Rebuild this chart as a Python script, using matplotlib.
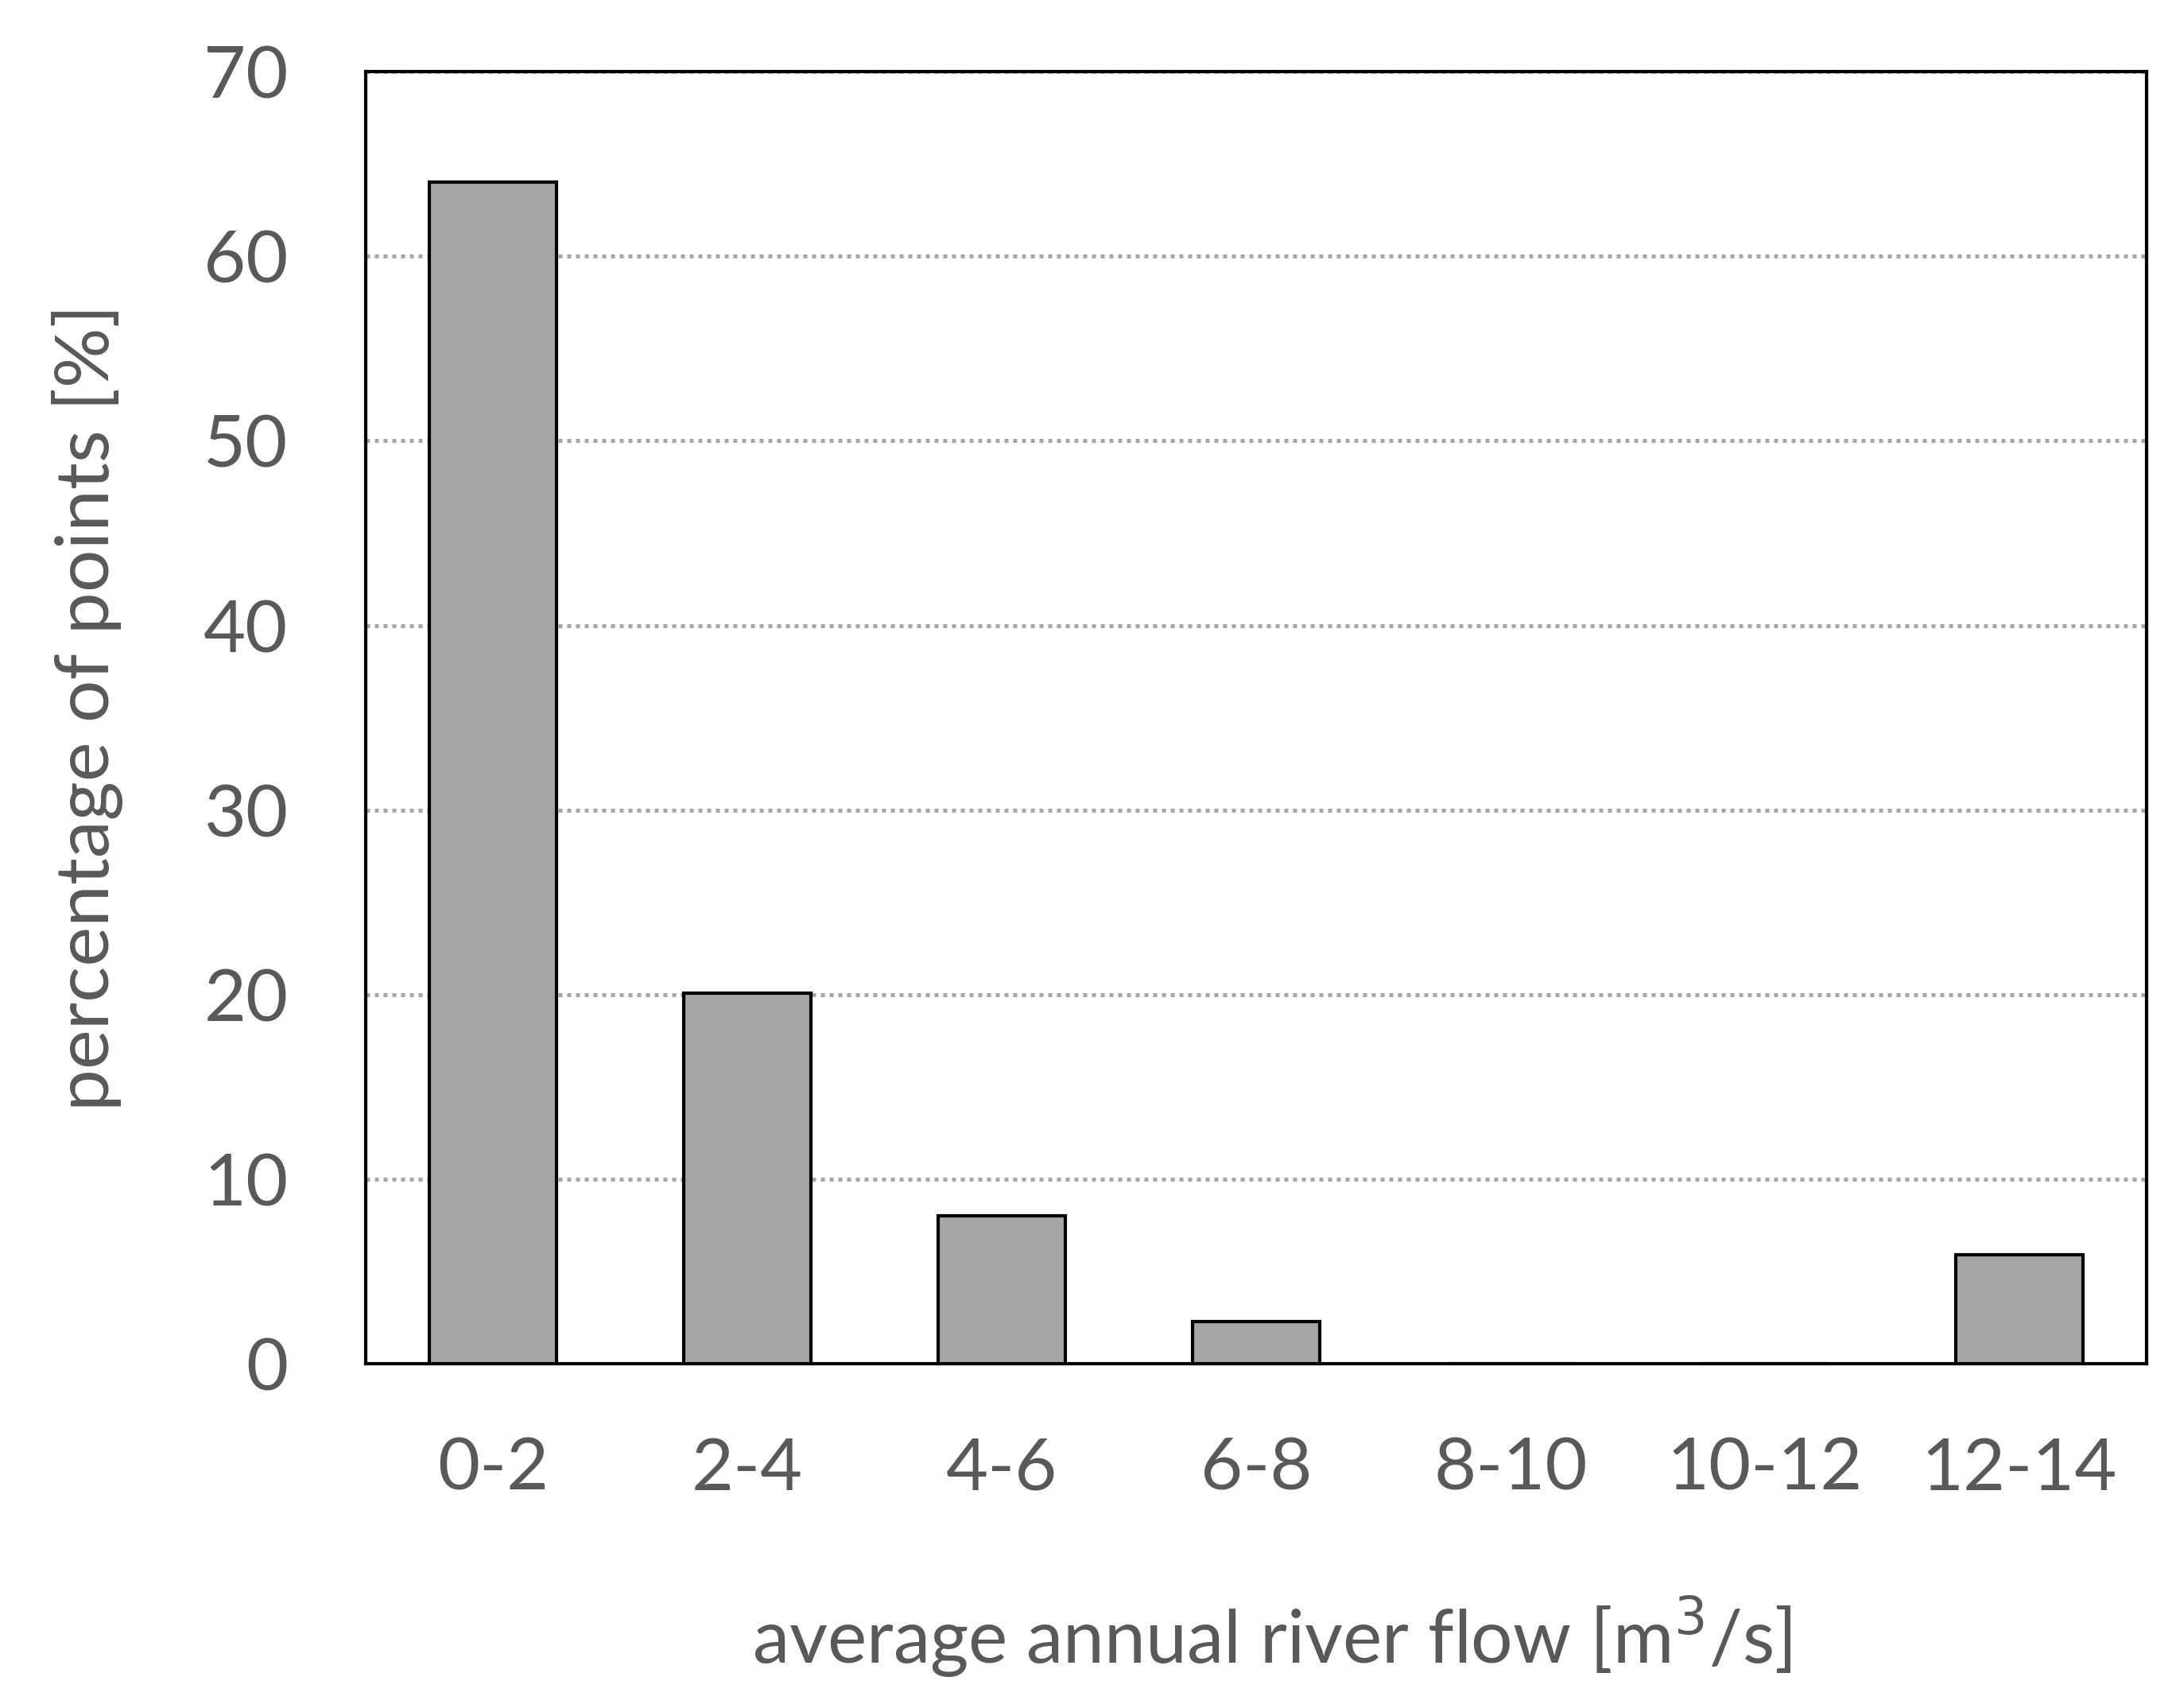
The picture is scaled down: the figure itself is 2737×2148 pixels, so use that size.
import matplotlib
matplotlib.use("Agg")
import matplotlib.pyplot as plt
import numpy as np

categories = ["0-2", "2-4", "4-6", "6-8", "8-10", "10-12", "12-14"]
percentages = [64.0, 20.1, 8.0, 2.3, 0.0, 0.0, 5.9]
yticks = [0, 10, 20, 30, 40, 50, 60, 70]

plt.rcParams['font.family'] = ['Lato', 'DejaVu Sans']
text_color = '#595959'

fig = plt.figure(figsize=(27.37, 21.48), dpi=100)
ax = fig.add_axes([0.168, 0.2015, 0.8185, 0.7565])

x = np.arange(len(categories))
ax.bar(x, percentages, width=0.5, color='#A6A6A6', edgecolor='black',
       linewidth=3.0, zorder=3)

ax.set_xlim(-0.5, len(categories) - 0.5)
ax.set_ylim(0, 70)
ax.set_yticks(yticks)
ax.set_xticks(x)
ax.set_xticklabels(categories)

ax.yaxis.grid(True, color='#A6A6A6', linestyle=(0, (1.0, 1.2)), linewidth=3.6, zorder=0)
ax.set_axisbelow(True)

for s in ax.spines.values():
    s.set_color('black')
    s.set_linewidth(3.0)

ax.tick_params(axis='both', length=0, labelsize=66, colors=text_color)
ax.tick_params(axis='x', pad=66)
ax.tick_params(axis='y', pad=70)

ax.set_xlabel("average annual river flow [m$^{3}$/s]", fontsize=67, color=text_color)
ax.xaxis.set_label_coords(0.509, -0.212)
ax.xaxis.label.set_va('center')
ax.set_ylabel("percentage of points [%]", fontsize=68, color=text_color)
ax.yaxis.set_label_coords(-0.156, 0.508)
ax.yaxis.label.set_va('center')

fig.savefig("out.png", dpi=100, facecolor='white')
